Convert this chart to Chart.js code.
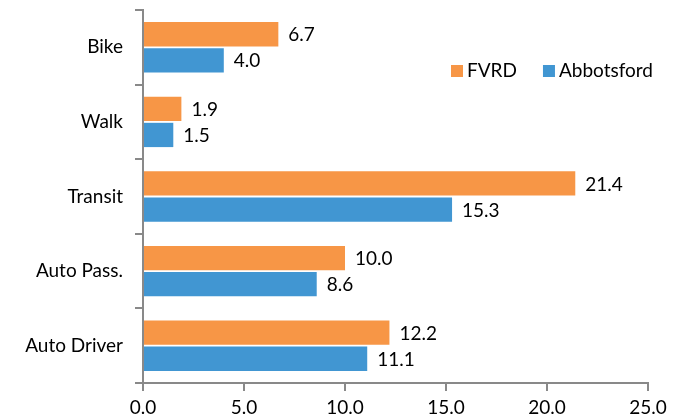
<!DOCTYPE html>
<html>
<head>
<meta charset="utf-8">
<script src="https://cdn.jsdelivr.net/npm/chart.js@4.4.0/dist/chart.umd.min.js"></script>
<style>
  html, body { margin: 0; padding: 0; background: #fff; }
  #wrap { width: 682px; height: 420px; }
</style>
</head>
<body>
<div id="wrap"><canvas id="modeChart" width="682" height="420"></canvas></div>
<script>
const categories = ['Bike', 'Walk', 'Transit', 'Auto Pass.', 'Auto Driver'];
const fvrdValues = [6.7, 1.9, 21.4, 10.0, 12.2];
const abbotsfordValues = [4.0, 1.5, 15.3, 8.6, 11.1];
const xTicks = [0, 5, 10, 15, 20, 25];

const FONT = 'Lato, "Open Sans", sans-serif';
const FSIZE = 19;
const axisGray = '#898989';

// value labels just right of each bar
const barLabels = {
  id: 'barLabels',
  afterDatasetsDraw(chart) {
    const ctx = chart.ctx;
    ctx.save();
    ctx.font = FSIZE + 'px ' + FONT;
    ctx.fillStyle = '#000';
    ctx.textAlign = 'left';
    ctx.textBaseline = 'middle';
    chart.data.datasets.forEach((ds, i) => {
      chart.getDatasetMeta(i).data.forEach((bar, j) => {
        ctx.fillText(ds.data[j].toFixed(1), bar.x + 10, bar.y + 1);
      });
    });
    ctx.restore();
  }
};

// legend drawn inside the plot, upper right
const innerLegend = {
  id: 'innerLegend',
  afterDraw(chart) {
    const ctx = chart.ctx;
    ctx.save();
    ctx.font = FSIZE + 'px ' + FONT;
    ctx.textBaseline = 'middle';
    let x = 451;
    const y = 71;
    chart.data.datasets.forEach(ds => {
      ctx.fillStyle = ds.backgroundColor;
      ctx.fillRect(x, y - 6, 12, 12);
      ctx.fillStyle = '#000';
      ctx.fillText(ds.label, x + 16, y);
      x += 16 + ctx.measureText(ds.label).width + 26;
    });
    ctx.restore();
  }
};

new Chart(document.getElementById('modeChart'), {
  type: 'bar',
  data: {
    labels: categories,
    datasets: [
      { label: 'FVRD', data: fvrdValues, backgroundColor: '#F79646', borderWidth: 0 },
      { label: 'Abbotsford', data: abbotsfordValues, backgroundColor: '#4196D2', borderWidth: 0 }
    ]
  },
  options: {
    indexAxis: 'y',
    responsive: false,
    animation: false,
    layout: { padding: { top: 10, right: 34, left: 0, bottom: 0 } },
    datasets: { bar: { categoryPercentage: 0.7, barPercentage: 0.93 } },
    plugins: {
      legend: { display: false },
      tooltip: { enabled: false }
    },
    scales: {
      x: {
        min: 0,
        max: 25,
        afterBuildTicks: scale => { scale.ticks = xTicks.map(v => ({ value: v })); },
        afterFit: scale => { scale.height = 37; },
        ticks: {
          callback: v => v.toFixed(1),
          color: '#000',
          font: { family: FONT, size: FSIZE },
          padding: 5,
          maxRotation: 0
        },
        grid: { drawOnChartArea: false, tickLength: 8, color: axisGray, lineWidth: 2 },
        border: { color: axisGray, width: 2 }
      },
      y: {
        afterFit: scale => {
          scale.width = 143;
          scale.paddingTop = 0;
          scale.paddingBottom = 0;
        },
        ticks: {
          color: '#000',
          font: { family: FONT, size: FSIZE },
          padding: 12
        },
        grid: { drawOnChartArea: false, offset: true, tickLength: 8, color: axisGray, lineWidth: 2 },
        border: { color: axisGray, width: 2 }
      }
    }
  },
  plugins: [barLabels, innerLegend]
});
</script>
</body>
</html>
